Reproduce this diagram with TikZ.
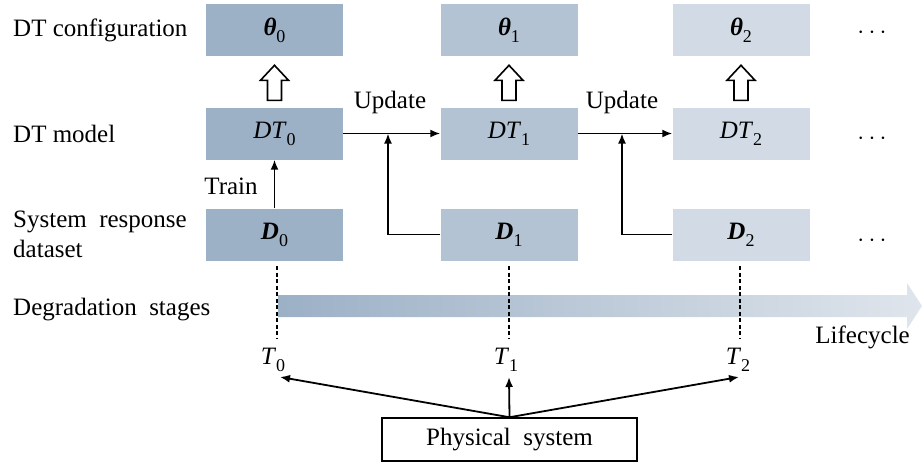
\documentclass[tikz,border=0pt]{standalone}
\usepackage{fontspec}
\setmainfont{Liberation Serif}
\usetikzlibrary{arrows.meta,calc}
\definecolor{cA}{HTML}{9CB0C6}
\definecolor{cB}{HTML}{B3C3D3}
\definecolor{cC}{HTML}{D2DBE5}
\definecolor{cEnd}{HTML}{DFE5EC}
\newcommand{\mysub}[1]{\raisebox{-0.28em}{\fontsize{18}{18}\selectfont #1}}
\newcommand{\bth}[1]{\textbf{\textit{θ}}\mysub{#1}}
\newcommand{\bD}[1]{\textbf{\textit{D}}\mysub{#1}}
\newcommand{\dtm}[1]{\textit{DT}\mysub{#1}}
\newcommand{\tm}[1]{\textit{T}\mysub{#1}}
\tikzset{
  stagebox/.style={minimum width=137pt,minimum height=52pt,inner sep=0pt,draw=none},
  lbl/.style={anchor=base west,inner sep=0pt},
  ctr/.style={anchor=base,inner sep=0pt},
  conn/.style={line width=1.8pt,-{Latex[length=10pt,width=8pt]}},
  hollow/.style={draw=black,line width=1.6pt,fill=white},
  vdash/.style={line width=1.4pt,dash pattern=on 4pt off 2.5pt},
}
\begin{document}
\begin{tikzpicture}[x=1pt,y=-1pt,font=\fontsize{25}{29}\selectfont]
\path[use as bounding box] (0,0) rectangle (922,466);

% boxes
\node[stagebox,fill=cA] (th0) at (274.5,30) {\bth{0}};
\node[stagebox,fill=cB] (th1) at (509,30) {\bth{1}};
\node[stagebox,fill=cC] (th2) at (741,30) {\bth{2}};
\node[stagebox,fill=cA] (dt0) at (274.5,133.5) {\dtm{0}};
\node[stagebox,fill=cB] (dt1) at (509,133.5) {\dtm{1}};
\node[stagebox,fill=cC] (dt2) at (741,133.5) {\dtm{2}};
\node[stagebox,fill=cA] (d0) at (274.5,234.5) {\bD{0}};
\node[stagebox,fill=cB] (d1) at (509,234.5) {\bD{1}};
\node[stagebox,fill=cC] (d2) at (741,234.5) {\bD{2}};

% dots
\node (e0) at (872,33) {$\cdots$};
\node (e1) at (872,139) {$\cdots$};
\node (e2) at (872,241) {$\cdots$};

% left labels
\node[lbl] (l1) at (13,36) {DT configuration};
\node[lbl] (l2) at (13,142) {DT model};
\node[lbl] (l3) at (13,227) {System\ \ response};
\node[lbl] (l4) at (13,257) {dataset};
\node[lbl] (l5) at (13,315) {Degradation\ \ stages};

% hollow arrows
\foreach \n in {dt0,dt1,dt2}{
  \draw[hollow] ([xshift=-7pt,yshift=7pt]\n.north) -- ++(0,-20) -- ++(-7,0) -- ++(14,-15) -- ++(14,15) -- ++(-7,0) -- ++(0,20) -- cycle;
}

% train
\draw[conn] (d0.north) -- (dt0.south);
\node[ctr] (train) at (231,194) {Train};

% updates
\coordinate (j1) at (388,133.5);
\coordinate (j2) at (622,133.5);
\draw[conn] (dt0.east) -- (dt1.west);
\draw[conn] (dt1.east) -- (dt2.west);
\draw[conn] (d1.west) -| (j1);
\draw[conn] (d2.west) -| (j2);
\node[ctr] (u1) at (390,108) {Update};
\node[ctr] (u2) at (622,108) {Update};

% degradation bar
\shade[left color=cA,right color=cEnd,shading angle=90] (278,295) -- (907,295) -- (907,283) -- (922,306) -- (907,329) -- (907,317) -- (278,317) -- cycle;
\node[anchor=base east,inner sep=0pt] (life) at (910,343) {Lifecycle};

% T labels
\node[ctr] (t0) at (273,364) {\tm{0}};
\node[ctr] (t1) at (506,364) {\tm{1}};
\node[ctr] (t2) at (738,364) {\tm{2}};
\coordinate (a0) at (280,377);
\coordinate (a1) at (509,377);
\coordinate (a2) at (739,377);
\coordinate (s0) at (277,266);
\coordinate (s1) at (509,266);
\coordinate (s2) at (740,266);
\coordinate (f0) at (277,339);
\coordinate (f1) at (509,339);
\coordinate (f2) at (740,339);
\draw[vdash] (s0) -- (f0);
\draw[vdash] (s1) -- (f1);
\draw[vdash] (s2) -- (f2);

% physical system
\node[draw,line width=1.5pt,minimum width=255pt,minimum height=43pt,inner sep=0pt] (ps) at (509.5,439.5) {Physical\ \ system};
\draw[conn] (ps.north) -- (a0);
\draw[conn] (ps.north) -- (a1);
\draw[conn] (ps.north) -- (a2);
\end{tikzpicture}
\end{document}
